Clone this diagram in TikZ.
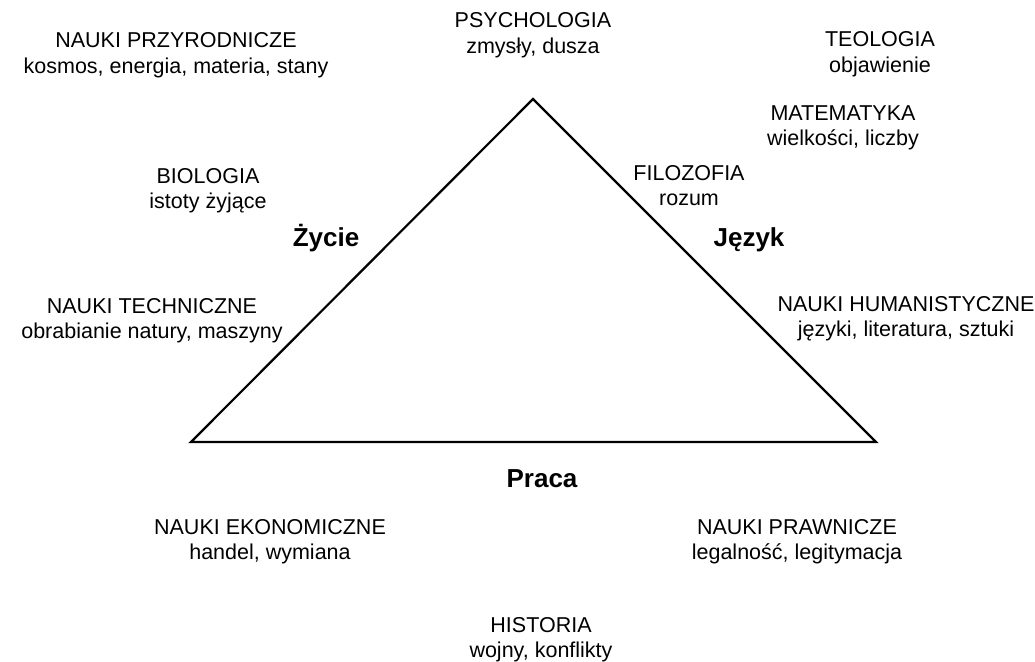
\documentclass[tikz,border=0pt]{standalone}
\usepackage{fontspec}
\setmainfont{Liberation Sans}
\begin{document}
\begin{tikzpicture}[x=1pt,y=-1pt,
  lbl/.style={align=center,inner sep=0pt,anchor=base,yshift=-25.8pt,font=\fontsize{21.5}{25.8}\selectfont},
  big/.style={inner sep=0pt,anchor=base,font=\fontsize{26}{30}\selectfont\bfseries}]
\useasboundingbox[fill=white] (0,0) rectangle (1035,661);
\coordinate (A) at (533,99);
\coordinate (L) at (191,442);
\coordinate (R) at (876,442);
\draw[line width=2.2pt,line join=miter] (A) -- (L) -- (R) -- cycle;
\node[lbl] (prz) at (176,48) {NAUKI PRZYRODNICZE\\kosmos, energia, materia, stany};
\node[lbl] (psy) at (533,28) {PSYCHOLOGIA\\zmysły, dusza};
\node[lbl] (teo) at (880,47) {TEOLOGIA\\objawienie};
\node[lbl] (mat) at (843,120) {MATEMATYKA\\wielkości, liczby};
\node[lbl] (bio) at (208,183) {BIOLOGIA\\istoty żyjące};
\node[lbl] (fil) at (689,180) {FILOZOFIA\\rozum};
\node[big] (zyc) at (326,246) {Życie};
\node[big] (jez) at (749,246) {Język};
\node[lbl] (tec) at (152,313) {NAUKI TECHNICZNE\\obrabianie natury, maszyny};
\node[lbl] (hum) at (906,311) {NAUKI HUMANISTYCZNE\\języki, literatura, sztuki};
\node[big] (pra) at (542,487) {Praca};
\node[lbl] (eko) at (270,534) {NAUKI EKONOMICZNE\\handel, wymiana};
\node[lbl] (prw) at (797,534) {NAUKI PRAWNICZE\\legalność, legitymacja};
\node[lbl] (his) at (541,632) {HISTORIA\\wojny, konflikty};
\end{tikzpicture}
\end{document}
